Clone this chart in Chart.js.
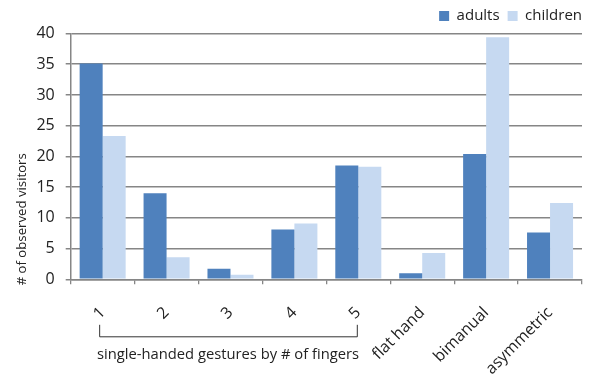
<!DOCTYPE html>
<html>
<head>
<meta charset="utf-8">
<script src="https://cdn.jsdelivr.net/npm/chart.js@4/dist/chart.umd.min.js"></script>
<style>
  html, body { margin: 0; padding: 0; background: #fff; }
  #wrap { width: 590px; height: 375px; }
</style>
</head>
<body>
<div id="wrap"><canvas id="c" width="590" height="375"></canvas></div>
<script>
// Gesture categories and observed counts per visitor group
const categories = ['1', '2', '3', '4', '5', 'flat hand', 'bimanual', 'asymmetric'];
const adults   = [35.1, 14.0, 1.7, 8.1, 18.5, 1.0, 20.4, 7.6];
const children = [23.3, 3.6, 0.75, 9.1, 18.3, 4.3, 39.4, 12.4];
const yTicks   = [0, 5, 10, 15, 20, 25, 30, 35, 40];

const yTitle = '# of observed visitors';
const groupLabel = 'single-handed gestures by # of fingers';
const FONT = '"Open Sans", "DejaVu Sans", sans-serif';
const GRID = '#868686';
const TEXT = '#222222';

// Draws the rotated y-axis caption and the bracket grouping categories 1-5
const annotations = {
  id: 'annotations',
  afterDraw(chart) {
    const { ctx, chartArea, scales } = chart;
    const x = scales.x;
    ctx.save();
    ctx.fillStyle = TEXT;

    // y-axis caption
    ctx.font = '13.2px ' + FONT;
    ctx.textAlign = 'center';
    ctx.textBaseline = 'middle';
    ctx.translate(22, chartArea.bottom - 60);
    ctx.rotate(-Math.PI / 2);
    ctx.fillText(yTitle, 0, 0);
    ctx.setTransform(1, 0, 0, 1, 0, 0);

    // bracket under the single-handed gestures
    const x0 = x.getPixelForValue(0) - 3.5;
    const x1 = x.getPixelForValue(4) - 1.5;
    const yTop = chartArea.bottom + 45.5;
    const yBar = chartArea.bottom + 57.5;
    ctx.strokeStyle = '#333';
    ctx.lineWidth = 1;
    ctx.beginPath();
    ctx.moveTo(x0 + 0.5, yTop);
    ctx.lineTo(x0 + 0.5, yBar);
    ctx.lineTo(x1 + 0.5, yBar);
    ctx.lineTo(x1 + 0.5, yTop);
    ctx.stroke();

    ctx.font = '14.75px ' + FONT;
    ctx.textAlign = 'center';
    ctx.textBaseline = 'alphabetic';
    ctx.fillText(groupLabel, (x0 + x1) / 2, chartArea.bottom + 80);
    ctx.restore();
  }
};

new Chart(document.getElementById('c'), {
  type: 'bar',
  data: {
    labels: categories,
    datasets: [
      { label: 'adults', data: adults, backgroundColor: '#4F81BD', borderWidth: 0 },
      { label: 'children', data: children, backgroundColor: '#C6D9F1', borderWidth: 0 }
    ]
  },
  options: {
    responsive: false,
    animation: false,
    devicePixelRatio: 1,
    layout: { padding: { left: 0, right: 0, top: 0.5, bottom: 0 } },
    datasets: { bar: { barPercentage: 1.0, categoryPercentage: 0.72 } },
    plugins: {
      legend: {
        position: 'top',
        align: 'end',
        labels: {
          boxWidth: 10,
          boxHeight: 10,
          padding: 8,
          color: TEXT,
          font: { family: FONT, size: 15 }
        }
      },
      tooltip: { enabled: false }
    },
    scales: {
      x: {
        grid: { display: true, drawOnChartArea: false, drawTicks: true, tickLength: 5, color: GRID, lineWidth: 1.3, offset: true },
        border: { display: true, color: GRID, width: 1.5 },
        ticks: {
          color: TEXT,
          font: { family: FONT, size: 16 },
          minRotation: 45,
          maxRotation: 45,
          padding: 19,
          autoSkip: false
        },
        afterFit(scale) { scale.height = 95.7; }
      },
      y: {
        min: 0,
        max: 40,
        afterBuildTicks(scale) { scale.ticks = yTicks.map(v => ({ value: v })); },
        grid: { color: GRID, lineWidth: 1.5, tickLength: 5 },
        border: { display: true, color: GRID, width: 1.5 },
        ticks: {
          color: TEXT,
          font: { family: FONT, size: 16 },
          padding: 11
        },
        afterFit(scale) { scale.width = 70.7; }
      },
      // empty strip that keeps the plot clear of the right edge
      gutter: {
        type: 'linear',
        position: 'right',
        display: true,
        grid: { display: false, drawTicks: false },
        border: { display: false },
        ticks: { display: false },
        afterFit(scale) { scale.width = 8; }
      }
    }
  },
  plugins: [annotations]
});
</script>
</body>
</html>
